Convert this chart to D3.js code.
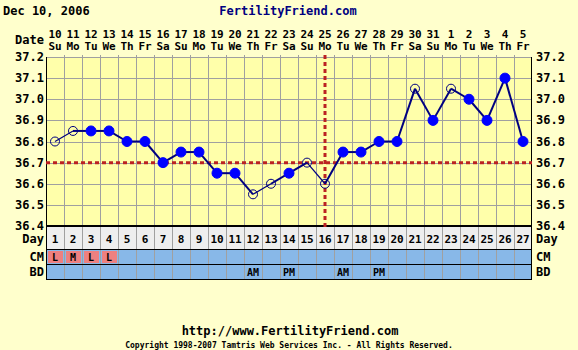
<!DOCTYPE html>
<html>
<head>
<meta charset="utf-8">
<script src="https://cdn.jsdelivr.net/npm/d3@7"></script>
<style>
  body { margin: 0; background: #ffffcc; }
  svg { display: block; }
  text { font-family: "DejaVu Sans Mono", monospace; font-weight: bold; }
</style>
</head>
<body>
<svg id="chart" width="578" height="350"></svg>
<script>
// cycle days and the calendar dates they fall on
const days = d3.range(1, 28)
const dates = ['10','11','12','13','14','15','16','17','18','19','20','21','22','23','24','25','26','27','28','29','30','31','1','2','3','4','5']
const weekdays = ['Su','Mo','Tu','We','Th','Fr','Sa','Su','Mo','Tu','We','Th','Fr','Sa','Su','Mo','Tu','We','Th','Fr','Sa','Su','Mo','Tu','We','Th','Fr']
// temperatures, open = discarded / out of range reading
const temps = [36.8,36.85,36.85,36.85,36.8,36.8,36.7,36.75,36.75,36.65,36.65,36.55,36.6,36.65,36.7,36.6,36.75,36.75,36.8,36.8,37.05,36.9,37.05,37.0,36.9,37.1,36.8]
const openDays = [1,2,12,13,15,16,21,23]
const yTicks = [36.4,36.5,36.6,36.7,36.8,36.9,37.0,37.1,37.2]
const coverline = 36.7
const ovulationDay = 16
const cm = { 1: 'L', 2: 'M', 3: 'L', 4: 'L' }
const bd = { 12: 'AM', 14: 'PM', 17: 'AM', 19: 'PM' }

const svg = d3.select('#chart')
const P = { left: 46, right: 532, top: 57, bottom: 226 }
const dayRow = [226, 249], cmRow = [249, 264], bdRow = [264, 279]

const x = d3.scaleBand().domain(days).range([P.left, P.right])
const y = d3.scaleLinear().domain([36.4, 37.2]).range([P.bottom, P.top])
const cx = d => x(d) + x.bandwidth() / 2

// header
svg.append('text').attr('x', 3).attr('y', 15).attr('font-size', 12).attr('fill', '#000').text('Dec 10, 2006')
svg.append('text').attr('x', 288).attr('y', 15).attr('font-size', 12).attr('fill', '#000080')
    .attr('text-anchor', 'middle').text('FertilityFriend.com')

svg.append('text').attr('x', 44).attr('y', 44).attr('font-size', 12).attr('text-anchor', 'end').text('Date')
svg.selectAll('.date').data(days).join('text')
    .attr('x', d => cx(d)).attr('y', 38).attr('font-size', 11).attr('text-anchor', 'middle')
    .text((d, i) => dates[i])
svg.selectAll('.wday').data(days).join('text')
    .attr('x', d => cx(d)).attr('y', 50).attr('font-size', 11).attr('text-anchor', 'middle')
    .text((d, i) => weekdays[i])

// plot area
svg.append('rect').attr('x', P.left).attr('y', P.top).attr('width', P.right - P.left).attr('height', P.bottom - P.top)
    .attr('fill', '#ffffaa')

const grid = svg.append('g').attr('stroke', '#a0a0a0').attr('stroke-width', 1)
grid.selectAll('.vg').data(days.slice(1)).join('line')
    .attr('x1', d => x(d) + 0.5).attr('x2', d => x(d) + 0.5)
    .attr('y1', P.top - 2).attr('y2', P.bottom)
grid.selectAll('.hg').data(yTicks.slice(1)).join('line')
    .attr('x1', P.left).attr('x2', P.right)
    .attr('y1', d => Math.round(y(d)) + 0.5).attr('y2', d => Math.round(y(d)) + 0.5)

// axes labels
svg.selectAll('.yl').data(yTicks).join('text')
    .attr('x', 44).attr('y', d => y(d) + 4).attr('font-size', 12).attr('text-anchor', 'end')
    .text(d => d.toFixed(1))
svg.selectAll('.yr').data(yTicks).join('text')
    .attr('x', 536).attr('y', d => y(d) + 4).attr('font-size', 12)
    .text(d => d.toFixed(1))

// lower rows
svg.append('rect').attr('x', P.left).attr('y', dayRow[0]).attr('width', P.right - P.left).attr('height', dayRow[1] - dayRow[0]).attr('fill', '#eeeeee')
svg.append('rect').attr('x', P.left).attr('y', cmRow[0]).attr('width', P.right - P.left).attr('height', bdRow[1] - cmRow[0]).attr('fill', '#88b8e8')
svg.selectAll('.cmc').data(Object.keys(cm).map(Number)).join('rect')
    .attr('x', d => x(d) + 2).attr('y', cmRow[0] + 2).attr('width', x.bandwidth() - 3).attr('height', cmRow[1] - cmRow[0] - 3)
    .attr('fill', '#ee8080')
const rowGrid = svg.append('g').attr('stroke', '#a0a0a0')
rowGrid.selectAll('line').data(days.slice(1)).join('line')
    .attr('x1', d => x(d) + 0.5).attr('x2', d => x(d) + 0.5)
    .attr('y1', dayRow[0]).attr('y2', bdRow[1])
svg.selectAll('.hsep').data([dayRow[1], cmRow[1], bdRow[1]]).join('line')
    .attr('x1', P.left).attr('x2', P.right).attr('y1', d => d + 0.5).attr('y2', d => d + 0.5)
    .attr('stroke', '#000')

svg.selectAll('.dn').data(days).join('text')
    .attr('x', d => cx(d)).attr('y', 243).attr('font-size', 11).attr('text-anchor', 'middle')
    .text(d => d)
svg.selectAll('.cmt').data(Object.entries(cm)).join('text')
    .attr('x', d => cx(+d[0])).attr('y', 261).attr('font-size', 10).attr('text-anchor', 'middle').attr('fill', '#000')
    .text(d => d[1])
svg.selectAll('.bdt').data(Object.entries(bd)).join('text')
    .attr('x', d => cx(+d[0])).attr('y', 276).attr('font-size', 10).attr('text-anchor', 'middle')
    .text(d => d[1])

const rowLabels = [['Day', 243], ['CM', 261], ['BD', 276]]
svg.selectAll('.rl').data(rowLabels).join('text')
    .attr('x', 44).attr('y', d => d[1]).attr('font-size', 12).attr('text-anchor', 'end').text(d => d[0])
svg.selectAll('.rr').data(rowLabels).join('text')
    .attr('x', 536).attr('y', d => d[1]).attr('font-size', 12).text(d => d[0])

// frame
svg.append('line').attr('x1', P.left).attr('x2', P.right).attr('y1', P.top + 0.5).attr('y2', P.top + 0.5).attr('stroke', '#a0a0a0')
svg.append('line').attr('x1', P.left).attr('x2', P.right).attr('y1', P.bottom).attr('y2', P.bottom).attr('stroke', '#000').attr('stroke-width', 2)
svg.append('line').attr('x1', P.left + 0.5).attr('x2', P.left + 0.5).attr('y1', P.top).attr('y2', bdRow[1]).attr('stroke', '#000')
svg.append('line').attr('x1', P.right - 0.5).attr('x2', P.right - 0.5).attr('y1', P.top).attr('y2', bdRow[1]).attr('stroke', '#000')

// coverline and ovulation line
svg.append('line').attr('x1', P.left).attr('x2', P.right).attr('y1', y(coverline)).attr('y2', y(coverline))
    .attr('stroke', '#bb2222').attr('stroke-width', 3).attr('stroke-dasharray', '4,3')
svg.append('line').attr('x1', cx(ovulationDay)).attr('x2', cx(ovulationDay)).attr('y1', P.top - 2).attr('y2', P.bottom + 2)
    .attr('stroke', '#bb2222').attr('stroke-width', 3).attr('stroke-dasharray', '4,3')

// temperature line
const isOpen = d => openDays.includes(d)
const segs = days.slice(1).map(d => [d - 1, d])
svg.selectAll('.seg').data(segs).join('line')
    .attr('x1', d => cx(d[0])).attr('y1', d => y(temps[d[0] - 1]))
    .attr('x2', d => cx(d[1])).attr('y2', d => y(temps[d[1] - 1]))
    .attr('stroke', '#000080')
    .attr('stroke-width', d => (isOpen(d[0]) && isOpen(d[1])) ? 1.2 : 2)

svg.selectAll('.pt').data(days).join('circle')
    .attr('cx', d => cx(d)).attr('cy', d => y(temps[d - 1])).attr('r', d => isOpen(d) ? 4.5 : 5)
    .attr('fill', d => isOpen(d) ? 'none' : '#0000ff')
    .attr('stroke', d => isOpen(d) ? '#000080' : '#0000ff')
    .attr('stroke-width', 1)

// footer
svg.append('text').attr('x', 290).attr('y', 335).attr('font-size', 12).attr('text-anchor', 'middle').text('http://www.FertilityFriend.com')
svg.append('text').attr('x', 289).attr('y', 348).attr('font-size', 8).attr('font-weight', 'normal').attr('text-anchor', 'middle')
    .text('Copyright 1998-2007 Tamtris Web Services Inc. - All Rights Reserved.')
</script>
</body>
</html>
